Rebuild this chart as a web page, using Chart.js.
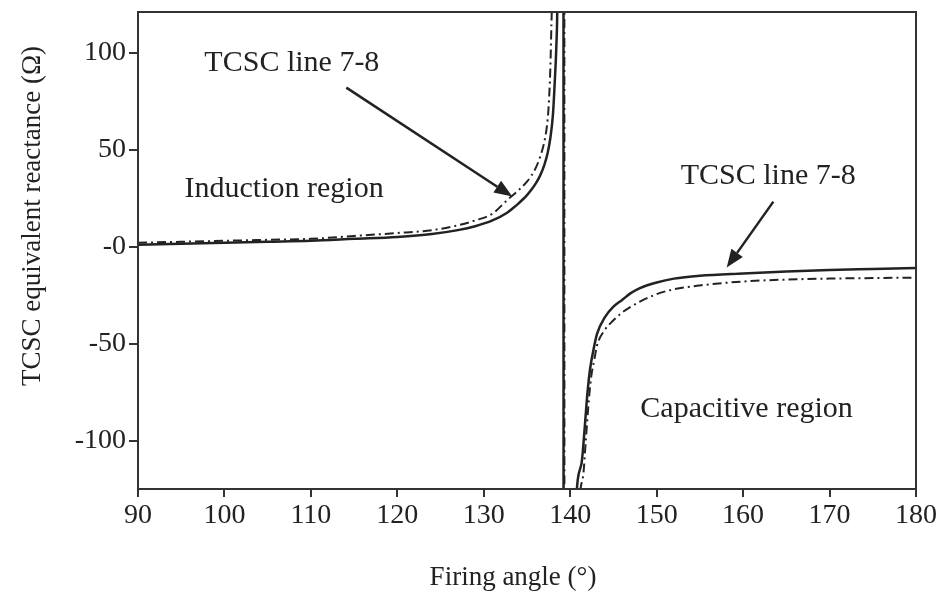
<!DOCTYPE html>
<html>
<head>
<meta charset="utf-8">
<script src="https://cdn.jsdelivr.net/npm/chart.js@4.4.1/dist/chart.umd.min.js"></script>
<style>
  html, body { margin: 0; padding: 0; background: #fff; }
  #wrap { width: 938px; height: 600px; }
</style>
</head>
<body>
<div id="wrap"><canvas id="grafico" width="938" height="600"></canvas></div>
<script>
// Firing angle (deg) and equivalent reactance (ohm)
const solidAngle = [90, 95, 100, 105, 110, 115, 120, 124, 127, 129, 131, 132.7, 133.5, 134, 134.5, 135, 135.5, 136, 136.5, 137, 137.4, 137.7, 138, 138.2, 138.4, 138.5, 138.8, 139.2,
  139.25, 140.6, 141.3, 141.7, 142, 142.3, 142.7, 143.1, 144, 145, 146, 147, 148, 150, 152, 155, 160, 165, 170, 175, 180];
const solidX = [1, 1.5, 2, 2.5, 3, 4, 5, 6.5, 8.5, 10.5, 13.5, 17.5, 20.3, 22.2, 24.3, 26.6, 29.3, 32.5, 36.5, 42, 48.5, 56, 68, 84, 104, 122, 300, 700,
  -700, -140, -112, -92, -75, -63, -53, -45, -36.5, -31, -27.5, -24, -21.5, -18.5, -16.5, -15, -13.8, -12.8, -12, -11.5, -11];

const dashAngle = [90, 95, 100, 105, 110, 115, 120, 124, 127, 129, 131, 132.7, 134, 135, 135.5, 136, 136.5, 137, 137.3, 137.5, 137.7, 137.8, 137.9, 138.5, 139.3,
  139.35, 141.0, 141.5, 141.8, 142.1, 142.4, 142.8, 143.1, 144, 145, 146, 147, 148, 150, 152, 155, 160, 165, 170, 175, 180];
const dashX = [2, 2.5, 3, 3.5, 4, 5.5, 7, 8.5, 11, 13.5, 17, 24, 29, 33.5, 36.5, 40.5, 46, 54, 62, 72, 92, 110, 130, 400, 700,
  -700, -140, -118, -100, -82, -68, -58, -51, -43, -38, -34, -31, -28.5, -24.5, -22, -20, -18, -17, -16.5, -16.2, -16];

const xTicks = [90, 100, 110, 120, 130, 140, 150, 160, 170, 180];
const yTicks = [-100, -50, 0, 50, 100];

// annotations: [text, angle, reactance]
const labels = [
  ['TCSC line 7-8', 107.8, 94.8],
  ['Induction region', 106.9, 29.4],
  ['TCSC line 7-8', 162.9, 36.6],
  ['Capacitive region', 160.4, -84]
];
// arrows: [fromAngle, fromX, toAngle, toX]
const arrows = [
  [114.1, 82, 133.3, 25.8],
  [163.5, 23.2, 158.1, -10.8]
];

const serif = "'Liberation Serif', 'Times New Roman', serif";
const ink = '#222';

function toPoints(xs, ys) {
  return xs.map((a, i) => ({ x: a, y: ys[i] }));
}

const extras = {
  id: 'extras',
  afterDraw(chart) {
    const ctx = chart.ctx;
    const a = chart.chartArea;
    const sx = chart.scales.x, sy = chart.scales.y;
    ctx.save();
    // frame
    ctx.strokeStyle = '#333';
    ctx.lineWidth = 2;
    ctx.strokeRect(a.left, a.top, a.right - a.left, a.bottom - a.top);

    ctx.fillStyle = ink;
    ctx.font = '30px ' + serif;
    ctx.textAlign = 'center';
    ctx.textBaseline = 'middle';
    labels.forEach(l => {
      ctx.fillText(l[0], sx.getPixelForValue(l[1]), sy.getPixelForValue(l[2]));
    });

    ctx.strokeStyle = ink;
    ctx.lineWidth = 2.5;
    arrows.forEach(r => {
      const x1 = sx.getPixelForValue(r[0]), y1 = sy.getPixelForValue(r[1]);
      const x2 = sx.getPixelForValue(r[2]), y2 = sy.getPixelForValue(r[3]);
      const ang = Math.atan2(y2 - y1, x2 - x1);
      const hl = 18, hw = 7;
      const bx = x2 - hl * Math.cos(ang), by = y2 - hl * Math.sin(ang);
      ctx.beginPath();
      ctx.moveTo(x1, y1);
      ctx.lineTo(bx, by);
      ctx.stroke();
      ctx.beginPath();
      ctx.moveTo(x2, y2);
      ctx.lineTo(bx + hw * Math.sin(ang), by - hw * Math.cos(ang));
      ctx.lineTo(bx - hw * Math.sin(ang), by + hw * Math.cos(ang));
      ctx.closePath();
      ctx.fill();
    });

    // axis titles
    ctx.font = '27px ' + serif;
    ctx.fillText('Firing angle (°)', 513, 578);
    ctx.translate(33, 216);
    ctx.rotate(-Math.PI / 2);
    ctx.fillText('TCSC equivalent reactance (Ω)', 0, 0);
    ctx.restore();
  }
};

const ctx = document.getElementById('grafico').getContext('2d');
const grafico = new Chart(ctx, {
  type: 'scatter',
  data: {
    datasets: [{
      data: toPoints(dashAngle, dashX),
      showLine: true,
      borderColor: ink,
      borderWidth: 2,
      borderDash: [9, 4, 2, 4],
      pointRadius: 0,
      cubicInterpolationMode: 'monotone'
    }, {
      data: toPoints(solidAngle, solidX),
      showLine: true,
      borderColor: ink,
      borderWidth: 2.5,
      pointRadius: 0,
      cubicInterpolationMode: 'monotone'
    }]
  },
  options: {
    responsive: false,
    animation: false,
    layout: { padding: { top: 12, right: 22, left: 0, bottom: 0 } },
    plugins: {
      legend: { display: false },
      tooltip: { enabled: false }
    },
    scales: {
      x: {
        type: 'linear',
        min: 90,
        max: 180,
        afterBuildTicks: axis => { axis.ticks = xTicks.map(v => ({ value: v })); },
        afterFit: axis => { axis.height = 111; axis.paddingRight = 0; axis.paddingLeft = 0; },
        ticks: { color: ink, font: { family: serif, size: 28 }, padding: 2, maxRotation: 0 },
        grid: { drawOnChartArea: false, tickLength: 8, color: '#333', lineWidth: 2 },
        border: { color: '#333', width: 2 }
      },
      y: {
        min: -125,
        max: 121,
        afterBuildTicks: axis => { axis.ticks = yTicks.map(v => ({ value: v })); },
        afterFit: axis => { axis.width = 138; axis.paddingTop = 0; axis.paddingBottom = 0; },
        ticks: {
          color: ink,
          font: { family: serif, size: 28 },
          padding: 3,
          callback: v => (v === 0 ? '-0' : String(v))
        },
        grid: { drawOnChartArea: false, tickLength: 9, color: '#333', lineWidth: 2 },
        border: { color: '#333', width: 2 }
      }
    }
  },
  plugins: [extras]
});
</script>
</body>
</html>
